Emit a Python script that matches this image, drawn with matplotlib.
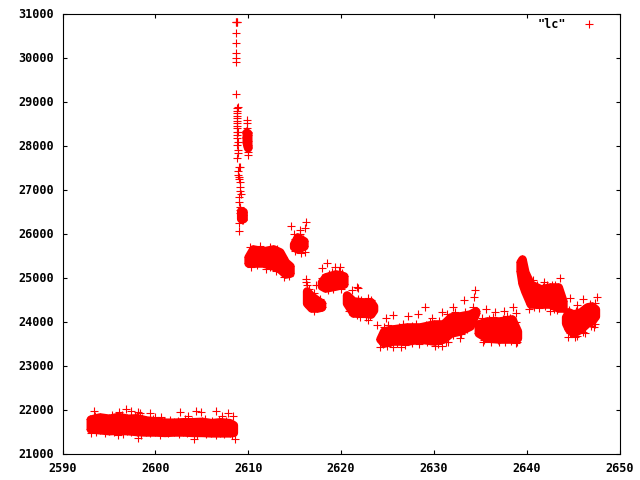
import matplotlib
matplotlib.use('Agg')
import matplotlib.pyplot as plt

# band edges: x, upper edge, lower edge of each dense stretch
a_x = [2593.0, 2594, 2595, 2596, 2597, 2598, 2599, 2600, 2601, 2602, 2603, 2604, 2605, 2606, 2607, 2608, 2608.4]
a_top = [21780, 21830, 21800, 21840, 21800, 21810, 21760, 21740, 21710, 21710, 21720, 21720, 21730, 21700, 21720, 21700, 21650]
a_bot = [21560, 21540, 21520, 21530, 21520, 21500, 21490, 21490, 21480, 21490, 21490, 21480, 21480, 21470, 21470, 21470, 21480]

c_x = [2610.0, 2610.5, 2611.6, 2612.7, 2613.4, 2614.0, 2614.5]
c_top = [25466, 25648, 25602, 25648, 25580, 25352, 25261]
c_bot = [25330, 25330, 25330, 25261, 25193, 25080, 25102]

d_x = [2614.9, 2615.3, 2616.0]
d_top = [25761, 25920, 25830]
d_bot = [25700, 25648, 25716]

e_x = [2616.3, 2616.8, 2617.4, 2617.9]
e_top = [24693, 24580, 24489, 24420]
e_bot = [24420, 24307, 24307, 24330]

f_x = [2617.9, 2618.3, 2619.4, 2620.3]
f_top = [24898, 25011, 25080, 25034]
f_bot = [24807, 24761, 24807, 24852]

g_x = [2620.6, 2621.3, 2622.4, 2623.2, 2623.5]
g_top = [24602, 24466, 24443, 24443, 24352]
g_bot = [24420, 24193, 24193, 24170, 24261]

h_x = [2624.2, 2624.6, 2625.6, 2627.1, 2628.5, 2630.0, 2631.0, 2631.8, 2632.8, 2633.9, 2634.5]
h_top = [23602, 23784, 23830, 23875, 23875, 23943, 23943, 24102, 24125, 24170, 24239]
h_bot = [23602, 23511, 23557, 23557, 23602, 23557, 23602, 23739, 23784, 23898, 24193]

i_x = [2634.8, 2635.7, 2637.1, 2638.4, 2639.0]
i_top = [23943, 24011, 24011, 24057, 23784]
i_bot = [23739, 23625, 23602, 23602, 23625]

j_x = [2639.3, 2639.5, 2639.8, 2640.4, 2641.5, 2642.5, 2643.4, 2643.9]
j_top = [25352, 25420, 25125, 24852, 24739, 24784, 24784, 24466]
j_bot = [25148, 24875, 24693, 24398, 24398, 24398, 24307, 24307]

k_x = [2644.2, 2644.5, 2645.0, 2645.8, 2646.5, 2647.0, 2647.4]
k_top = [24102, 24216, 24170, 24216, 24330, 24352, 24284]
k_bot = [23966, 23830, 23739, 23830, 23966, 24011, 24125]

# two knots inside the spike
l_x = [2609.2, 2609.45]
l_top = [26520, 26500]
l_bot = [26340, 26340]

m_x = [2609.8, 2609.95]
m_top = [28300, 28280]
m_bot = [28070, 27950]

# the spike after 2608
spike_x = [2608.7, 2608.7, 2608.75, 2608.8, 2608.7, 2608.7, 2608.7, 2608.7, 2608.7,
           2608.7, 2608.9, 2608.8, 2608.85, 2608.8, 2608.85, 2608.8, 2608.85, 2608.8, 2608.8, 2608.85,
           2608.8, 2608.9, 2608.85, 2608.85, 2608.9, 2608.85, 2608.9, 2608.9, 2608.85,
           2609.9, 2609.9, 2609.85, 2609.8, 2609.75, 2609.95, 2609.8, 2609.85, 2609.85, 2610.0, 2610.0, 2610.0, 2610.0,
           2609.85, 2609.95, 2609.75, 2609.85, 2609.95,
           2609.05, 2609.15, 2608.95, 2608.95, 2609.0, 2609.05, 2609.1, 2609.15, 2609.15, 2609.25, 2609.0, 2609.05,
           2609.15, 2609.15, 2609.15, 2609.3, 2609.05, 2609.0,
           2609.2, 2609.3, 2609.4, 2609.25, 2609.35, 2609.2, 2609.3, 2609.4]
spike_y = [30815, 30815, 30815, 30815, 30550, 30320, 30095, 30000, 29890,
           29164, 28870, 28845, 28791, 28731, 28677, 28618, 28564, 28518, 28443, 28390,
           28314, 28314, 28239, 28163, 28086, 28011, 27898, 27822, 27709,
           28580, 28505, 28390, 28340, 28277, 28314, 28200, 28125, 28050, 28011, 27960, 27860, 27784,
           28260, 28240, 28180, 28300, 28100,
           27504, 27504, 27420, 27320, 27277, 27230, 27180, 27064, 26973, 26900, 26836, 26722,
           26609, 26534, 26459, 26382, 26232, 26064,
           26500, 26480, 26430, 26400, 26370, 26340, 26310, 26307]

# single marks standing clear of the dense stretches
loose_x = [2593.4, 2596.8, 2597.4, 2596.1, 2598.1, 2598.3, 2599.4, 2600.0, 2600.6, 2602.7, 2603.5, 2604.4, 2604.9,
           2606.5, 2607.2, 2607.85, 2608.4, 2593.1, 2598.1, 2604.2, 2608.6, 2596.0,
           2614.6, 2616.2, 2615.6, 2616.1, 2614.9, 2616.1,
           2616.2, 2616.2, 2616.3, 2618.5, 2617.9, 2619.4, 2619.9, 2617.3,
           2621.7, 2621.2, 2621.85, 2622.0, 2622.9,
           2629.1, 2632.1, 2633.2, 2634.45, 2634.3, 2628.3, 2630.9, 2635.6, 2638.5, 2637.6, 2636.6, 2625.6, 2624.8,
           2627.2, 2629.8, 2638.9, 2623.9, 2624.2, 2625.6, 2626.5, 2630.1, 2630.9, 2635.3, 2637.0, 2638.9, 2632.8, 2631.5,
           2643.6, 2641.9, 2640.7, 2642.7, 2640.3, 2642.5, 2644.7, 2646.1, 2647.6, 2644.5, 2645.2, 2646.3, 2647.2, 2645.4]
loose_y = [21973, 22011, 21973, 21950, 21950, 21930, 21920, 21836, 21820, 21940, 21850, 21973, 21950,
           21973, 21850, 21910, 21850, 21460, 21360, 21320, 21340, 21420,
           26177, 26255, 26080, 26118, 26000, 25590,
           24960, 24890, 24820, 25336, 25210, 25232, 25232, 24830,
           24790, 24716, 24760, 24100, 24034,
           24323, 24323, 24489, 24716, 24564, 24170, 24209, 24277, 24323, 24245, 24223, 24148, 24073,
           24125, 24073, 24186, 23920, 23427, 23427, 23427, 23450, 23450, 23540, 23540, 23505, 23620, 23540,
           24982, 24905, 24943, 24830, 24277, 24245, 24527, 24505, 24550, 23655, 23640, 23730, 23880, 24375]

# marks along the rim of the bands, they make the rough edge
rim_x = [2593.5, 2594.4, 2595.3, 2595.8, 2596.4, 2597.8, 2598.6, 2599.7, 2600.9, 2601.6, 2602.4, 2603.2, 2604.0, 2605.4, 2606.1, 2606.9, 2607.6,
         2593.6, 2594.6, 2595.5, 2596.5, 2597.4, 2598.5, 2599.4, 2600.5, 2601.4, 2602.5, 2603.4, 2604.5, 2605.5, 2606.5, 2607.4, 2608.3,
         2610.2, 2610.9, 2611.3, 2612.1, 2612.4, 2613.1, 2613.8, 2610.3, 2611.0, 2611.9, 2612.3, 2613.0, 2613.9, 2614.4,
         2615.0, 2615.6, 2615.9, 2615.0, 2615.7, 2616.5, 2617.1, 2617.7, 2616.5, 2617.1,
         2618.0, 2618.7, 2619.0, 2619.8, 2620.1, 2618.6, 2619.1, 2620.0,
         2620.8, 2621.8, 2622.2, 2622.9, 2623.2, 2620.9, 2621.7, 2622.7, 2623.1,
         2624.6, 2625.1, 2626.2, 2626.7, 2627.6, 2628.1, 2629.2, 2629.6, 2630.6, 2631.4, 2632.3, 2633.4, 2634.2,
         2624.5, 2625.0, 2626.0, 2626.9, 2627.7, 2628.4, 2629.3, 2630.4, 2631.3, 2632.1, 2632.9, 2633.6,
         2635.2, 2635.9, 2636.4, 2637.4, 2637.9, 2638.2, 2638.9, 2635.4, 2636.2, 2636.9, 2637.7, 2638.3, 2639.0,
         2640.1, 2640.7, 2641.1, 2641.8, 2642.2, 2643.0, 2640.8, 2641.3, 2642.0, 2642.9, 2643.3,
         2644.6, 2645.3, 2646.1, 2646.8, 2647.4, 2644.7, 2645.4, 2646.1, 2646.9, 2647.4]
rim_y = [21860, 21800, 21880, 21820, 21870, 21850, 21810, 21790, 21740, 21770, 21730, 21790, 21750, 21780, 21730, 21760, 21730,
         21500, 21470, 21490, 21440, 21480, 21430, 21470, 21430, 21460, 21440, 21460, 21430, 21450, 21420, 21450, 21430,
         25700, 25560, 25720, 25560, 25700, 25640, 25460, 25240, 25290, 25200, 25240, 25140, 25020, 25040,
         25880, 25980, 25880, 25600, 25560, 24740, 24640, 24520, 24340, 24250,
         25000, 25090, 25120, 25150, 25110, 24710, 24750, 24730,
         24560, 24520, 24480, 24530, 24490, 24240, 24140, 24110, 24130,
         23880, 23920, 23880, 23950, 23900, 23950, 23920, 24000, 24020, 24160, 24210, 24220, 24320,
         23480, 23450, 23510, 23470, 23520, 23490, 23540, 23480, 23540, 23700, 23720, 23840,
         24090, 24050, 24110, 24050, 24130, 24090, 24000, 23590, 23540, 23570, 23530, 23560, 23530,
         24900, 24800, 24830, 24780, 24840, 24830, 24340, 24300, 24350, 24290, 24260,
         24260, 24240, 24280, 24390, 24420, 23750, 23680, 23770, 23890, 23950]

bands = [(a_x, a_top, a_bot), (c_x, c_top, c_bot), (d_x, d_top, d_bot), (e_x, e_top, e_bot),
         (f_x, f_top, f_bot), (g_x, g_top, g_bot), (h_x, h_top, h_bot), (i_x, i_top, i_bot),
         (j_x, j_top, j_bot), (k_x, k_top, k_bot), (l_x, l_top, l_bot), (m_x, m_top, m_bot)]

x_ticks = [2590, 2600, 2610, 2620, 2630, 2640, 2650]
y_ticks = [21000, 22000, 23000, 24000, 25000, 26000, 27000, 28000, 29000, 30000, 31000]

plt.rcParams['font.family'] = 'DejaVu Sans Mono'
plt.rcParams['font.weight'] = 'bold'
plt.rcParams['font.size'] = 8.5

fig = plt.figure(figsize=(6.4, 4.8), dpi=100)
ax = fig.add_axes([62.5 / 640, 1 - 453.5 / 480, 557 / 640, 440 / 480])

mark = dict(linestyle='none', marker='+', color='#ff0000', markersize=5.8, markeredgewidth=0.8, antialiased=False)

for xs, top, bot in bands:
    ax.fill_between(xs, bot, top, color='#ff0000', linewidth=6.2, antialiased=False)
    ax.plot(xs, top, **mark)
    ax.plot(xs, bot, **mark)
ax.plot(spike_x, spike_y, **mark)
ax.plot(rim_x, rim_y, **mark)
ax.plot(loose_x, loose_y, label='"lc"', **mark)

ax.set_xlim(2590, 2650)
ax.set_ylim(21000, 31000)
ax.set_xticks(x_ticks)
ax.set_yticks(y_ticks)
ax.tick_params(direction='in', length=3, width=0.8, top=True, right=True, pad=6)
for s in ax.spines.values():
    s.set_linewidth(0.8)

ax.legend(loc='upper right', bbox_to_anchor=(0.981, 1.006), frameon=False, handlelength=2.2, borderaxespad=0.2, markerfirst=False)

fig.savefig('out.png', dpi=100)
